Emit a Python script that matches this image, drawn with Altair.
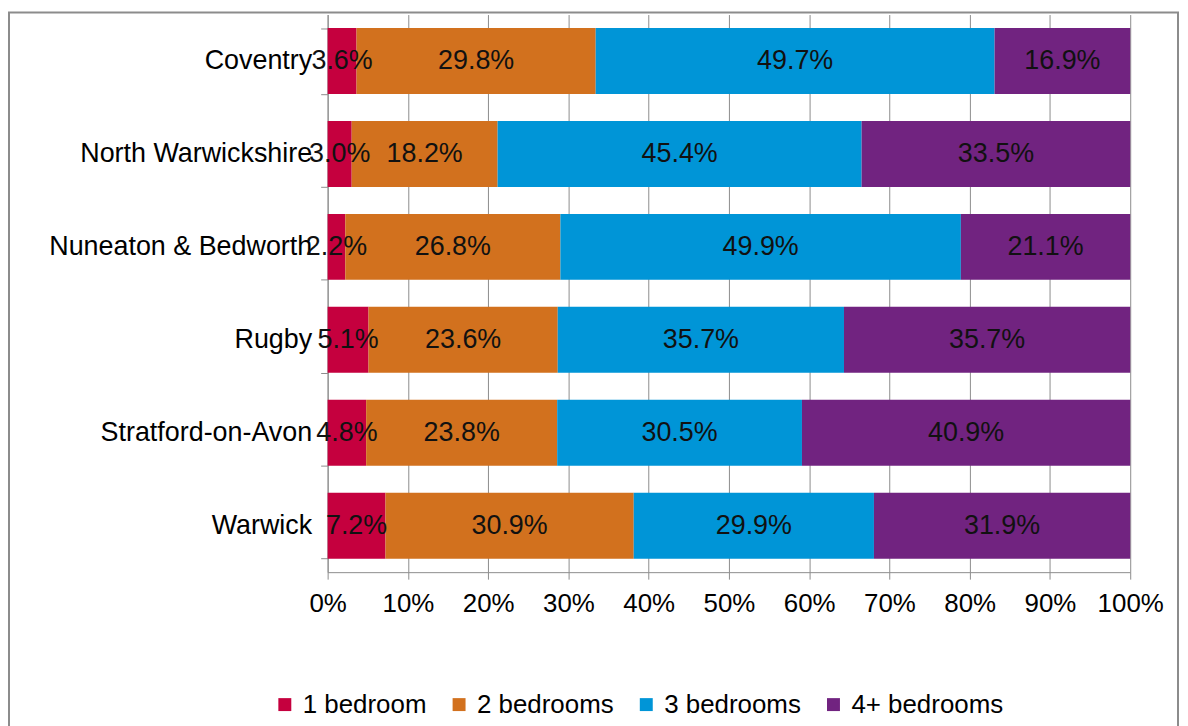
import altair as alt
import pandas as pd

areas = ["Coventry", "North Warwickshire", "Nuneaton & Bedworth", "Rugby",
         "Stratford-on-Avon", "Warwick"]
beds = ["1 bedroom", "2 bedrooms", "3 bedrooms", "4+ bedrooms"]
one_bed = [3.6, 3.0, 2.2, 5.1, 4.8, 7.2]
two_bed = [29.8, 18.2, 26.8, 23.6, 23.8, 30.9]
three_bed = [49.7, 45.4, 49.9, 35.7, 30.5, 29.9]
four_bed = [16.9, 33.5, 21.1, 35.7, 40.9, 31.9]
colors = ["#C5003E", "#D2711E", "#0095D7", "#712380"]

rows = []
for series_i, (b, vals) in enumerate(zip(beds, [one_bed, two_bed, three_bed, four_bed])):
    for a, v in zip(areas, vals):
        rows.append({"area": a, "bed": b, "value": v, "order": series_i})
df = pd.DataFrame(rows)

FONT = "Liberation Sans"
GRAY = "#8c8c8c"
FS = 26
FSL = 27

base = alt.Chart(df).transform_stack(
    stack="value", groupby=["area"], as_=["x0", "x1"],
    sort=[alt.SortField("order")], offset="normalize"
).transform_calculate(
    mid="(datum.x0 + datum.x1) / 2",
    label="format(datum.value, '.1f') + '%'"
)

yenc = alt.Y("area:N", sort=areas,
             scale=alt.Scale(paddingInner=0.29, paddingOuter=0.145),
             axis=alt.Axis(title=None, domain=True, domainColor=GRAY, ticks=True,
                           tickBand="extent", tickColor=GRAY, tickSize=7,
                           labelFontSize=FSL, labelFont=FONT, labelColor="#000000",
                           labelPadding=9, grid=False, labelLimit=400))

bars = base.mark_bar().encode(
    y=yenc,
    x=alt.X("x0:Q", scale=alt.Scale(domain=[0, 1]),
            axis=alt.Axis(title=None, values=[i / 10 for i in range(11)], format=".0%",
                          domainColor=GRAY, tickColor=GRAY, tickSize=7,
                          grid=True, gridColor=GRAY, gridWidth=1,
                          labelFontSize=FS, labelFont=FONT, labelColor="#000000",
                          labelPadding=12, labelOverlap=False, labelFlush=False)),
    x2="x1:Q",
    color=alt.Color("bed:N", scale=alt.Scale(domain=beds, range=colors),
                    legend=alt.Legend(orient="none", legendX=-56, legendY=680,
                                      direction="horizontal", title=None,
                                      symbolType="square", symbolSize=169,
                                      symbolStrokeWidth=0,
                                      labelFontSize=FS, labelFont=FONT,
                                      labelColor="#000000", labelLimit=300,
                                      columnPadding=19, labelOffset=5)),
    order=alt.Order("order:Q"),
)

texts = base.mark_text(fontSize=FSL, font=FONT, color="#111111").encode(
    y=alt.Y("area:N", sort=areas),
    x=alt.X("mid:Q"),
    text="label:N",
)

border = alt.Chart(pd.DataFrame({"a": [0]})).mark_rect(
    fill="transparent", stroke=GRAY, strokeWidth=2, clip=False
).encode(
    x=alt.value(-320), x2=alt.value(854), y=alt.value(-2), y2=alt.value(760)
)

chart = alt.layer(bars, texts, border).properties(
    width=806, height=560,
    padding={"left": 321, "top": 5, "right": 50, "bottom": 170},
    autosize=alt.AutoSizeParams(type="none"),
).configure_view(stroke="transparent")

chart.save("out.html", embed_options={"renderer": "svg", "actions": False})
